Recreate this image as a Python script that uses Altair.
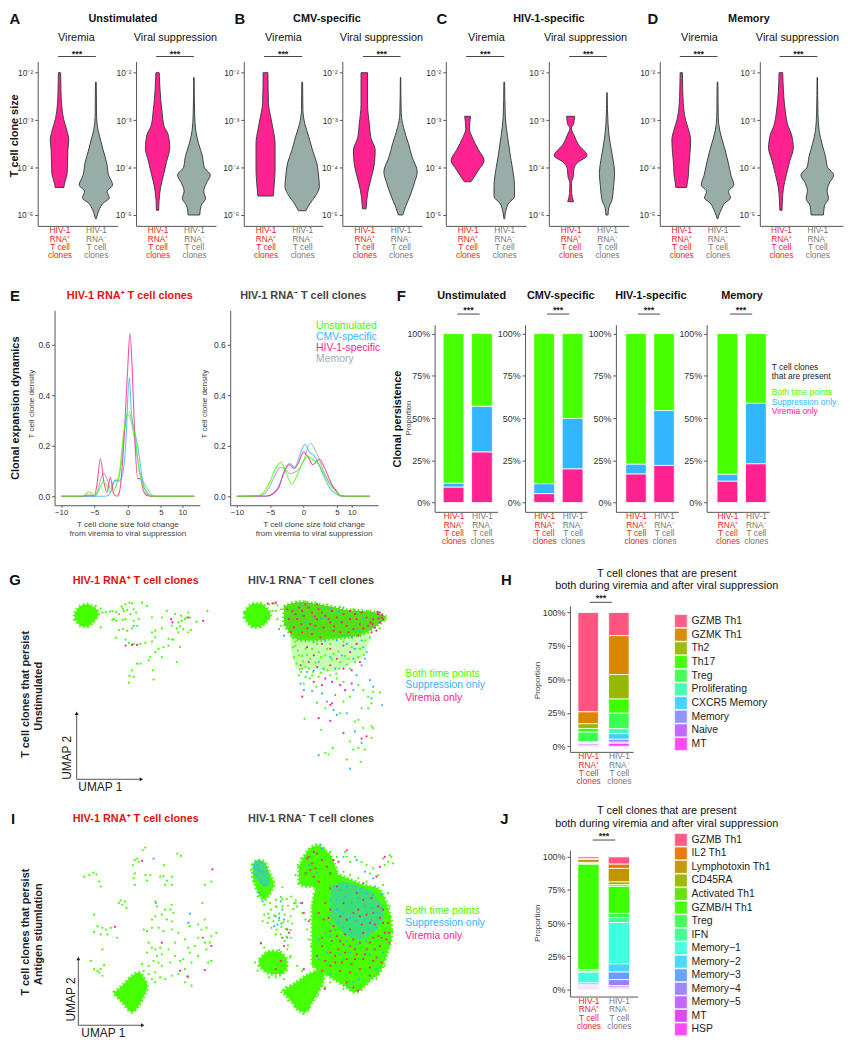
import altair as alt
import pandas as pd

W, H = 846, 1042
FONT = "Liberation Sans"
RED = "#f01c1c"
GREENC, BLUEC, PINKC, GREYC = "#46ff00", "#33b5ff", "#ff2290", "#98aca8"
INK = "#444444"
ONE = alt.Data(values=[{"a": 1}])

# ---- violin outlines: (log10 clone size, half width in category units) ----
A1_POS = [(-2,.03),(-2.37,.04),(-2.65,.055),(-2.97,.11),(-3.21,.2),(-3.42,.255),(-3.63,.23),(-3.91,.22),(-4.12,.21),(-4.26,.165),(-4.37,.13),(-4.42,.12)]
A1_NEG = [(-2.2,.01),(-2.94,.02),(-3.21,.06),(-3.42,.13),(-3.63,.2),(-3.91,.3),(-4.16,.35),(-4.37,.46),(-4.5,.31),(-4.64,.37),(-4.75,.2),(-4.89,.09),(-5,.04),(-5.08,.01)]
A2_POS = [(-2,.045),(-2.39,.07),(-2.81,.12),(-3.13,.18),(-3.3,.29),(-3.59,.335),(-3.87,.25),(-4.15,.165),(-4.43,.08),(-4.71,.04),(-4.9,.03)]
A2_NEG = [(-2.1,.005),(-2.87,.02),(-3.22,.05),(-3.5,.13),(-3.78,.24),(-3.99,.28),(-4.16,.45),(-4.33,.34),(-4.5,.27),(-4.65,.32),(-4.8,.2),(-5,.16)]
B1_POS = [(-2,.065),(-2.65,.08),(-2.93,.14),(-3.21,.21),(-3.49,.26),(-4.05,.26),(-4.33,.24),(-4.6,.21)]
B1_NEG = [(-2.2,.01),(-2.8,.02),(-3.07,.07),(-3.35,.18),(-3.63,.28),(-3.91,.4),(-4.2,.45),(-4.4,.47),(-4.6,.36),(-4.75,.22),(-4.91,.1)]
B2_POS = [(-2,.09),(-2.67,.09),(-3.09,.14),(-3.37,.18),(-3.63,.3),(-3.91,.28),(-4.19,.2),(-4.47,.11),(-4.68,.07),(-4.87,.05)]
B2_NEG = [(-2.1,.005),(-2.87,.02),(-3.15,.08),(-3.5,.22),(-3.78,.32),(-4.09,.46),(-4.33,.38),(-4.6,.26),(-4.82,.14),(-5,.06)]
C1_POS = [(-2.92,.08),(-3.18,.05),(-3.35,.12),(-3.63,.3),(-3.85,.45),(-4.05,.3),(-4.3,.09)]
C1_NEG = [(-2.2,.01),(-2.94,.03),(-3.35,.09),(-3.78,.17),(-4.2,.26),(-4.4,.28),(-4.61,.28),(-4.75,.12),(-4.92,.04),(-5.08,.01)]
C2_POS = [(-2.92,.11),(-3.09,.08),(-3.17,.02),(-3.33,.1),(-3.5,.2),(-3.75,.45),(-3.89,.2),(-4.03,.09),(-4.2,.07),(-4.33,.02),(-4.55,.03),(-4.72,.08)]
C2_NEG = [(-2.42,.005),(-3.09,.03),(-3.5,.09),(-3.85,.17),(-4.12,.21),(-4.4,.18),(-4.68,.14),(-4.85,.05),(-5,.03)]
D1_POS = [(-2,.03),(-2.35,.04),(-2.65,.055),(-3,.12),(-3.2,.2),(-3.42,.26),(-3.7,.24),(-3.95,.21),(-4.15,.2),(-4.3,.17),(-4.42,.15)]
D1_NEG = [(-2.2,.01),(-2.94,.02),(-3.21,.06),(-3.42,.13),(-3.63,.21),(-3.91,.3),(-4.16,.37),(-4.37,.45),(-4.5,.3),(-4.64,.36),(-4.75,.2),(-4.89,.1),(-5,.04),(-5.08,.01)]
D2_POS = [(-2,.05),(-2.39,.07),(-2.81,.12),(-3.13,.2),(-3.3,.29),(-3.59,.34),(-3.87,.24),(-4.15,.15),(-4.43,.07),(-4.71,.04),(-4.9,.03)]
D2_NEG = [(-2.1,.005),(-2.87,.02),(-3.22,.05),(-3.5,.13),(-3.78,.23),(-3.99,.28),(-4.16,.45),(-4.33,.33),(-4.5,.27),(-4.65,.31),(-4.8,.2),(-5,.17)]

# ---- density curves: (fold change, density) ----
E1_UNSTIM = [(-10,0),(-7,0),(-6.4,.006),(-5.8,.018),(-5.2,.007),(-4.8,.003),(-4.3,.025),(-3.7,.056),(-3.2,.045),(-2.7,.02),(-2.2,.02),(-1.7,.045),(-1.2,.1),(-.6,.25),(.1,.335),(.6,.31),(1.2,.22),(1.8,.09),(2.3,.045),(2.8,.02),(3.4,.003),(4,0),(12,0)]
E1_CMV = [(-10,0),(-4,0),(-3,.002),(-2.5,.02),(-2,.06),(-1.7,.065),(-1.3,.06),(-.8,.08),(-.3,.2),(.25,.47),(.6,.32),(1.2,.24),(1.7,.17),(2.2,.07),(2.7,.02),(3.3,.002),(4,0),(12,0)]
E1_HIV = [(-10,0),(-6.8,0),(-6,.005),(-5,.002),(-4.6,.05),(-4.1,.15),(-3.6,.06),(-3.1,.015),(-2.6,.075),(-2.1,.01),(-1.6,0),(-1.2,.02),(-.6,.2),(0,.5),(.35,.645),(.7,.5),(1.1,.22),(1.5,.07),(1.9,.07),(2.4,.02),(3,.002),(4,0),(12,0)]
E1_MEM = [(-10,0),(-5,0),(-4.4,.03),(-3.9,.08),(-3.5,.09),(-3,.06),(-2.6,.03),(-2,.06),(-1.5,.06),(-1,.12),(-.4,.27),(0,.325),(.6,.29),(1.2,.2),(1.8,.1),(2.5,.05),(3,.03),(3.6,.005),(4.2,0),(12,0)]
E2_UNSTIM = [(-10,0),(-7,.002),(-6,.015),(-5,.06),(-4.2,.11),(-3.4,.135),(-2.7,.1),(-1.8,.048),(-1,.08),(0,.14),(.6,.157),(1.4,.145),(2.3,.125),(3,.09),(4,.045),(5,.015),(6,.003),(8,0),(12,0)]
E2_CMV = [(-10,0),(-5.5,0),(-4.5,.012),(-3.7,.04),(-3,.09),(-2.1,.13),(-1.3,.115),(-.6,.16),(.2,.205),(.9,.175),(1.6,.16),(2.4,.12),(3.2,.07),(4,.03),(5,.008),(6,.001),(8,0),(12,0)]
E2_HIV = [(-10,0),(-5.5,.001),(-4.5,.012),(-3.7,.035),(-3,.09),(-2.2,.125),(-1.4,.11),(-.8,.13),(0,.175),(.7,.155),(1.4,.125),(2.4,.147),(3.2,.11),(4.2,.05),(5,.018),(6,.003),(8,0),(12,0)]
E2_MEM = [(-10,0),(-6.5,.003),(-5.5,.02),(-4.5,.07),(-3.5,.115),(-2.7,.105),(-2,.09),(-1,.1),(0,.14),(1,.21),(2,.17),(3,.1),(4,.05),(5,.018),(6,.003),(8,0),(12,0)]

# ---- persistence proportions: viremia only, suppression only, both ----
PERSIST_NAMES = ["Viremia only", "Suppression only", "Both time points"]
PERSIST_COLORS = [PINKC, BLUEC, GREENC]
F1_POS, F1_NEG = [.092,.023,.885], [.30,.27,.43]
F2_POS, F2_NEG = [.053,.059,.888], [.20,.298,.502]
F3_POS, F3_NEG = [.17,.058,.772], [.22,.325,.455]
F4_POS, F4_NEG = [.127,.041,.832], [.23,.358,.412]

# ---- phenotype proportions (top of bar first) ----
H_NAMES = ["GZMB Th1","GZMK Th1","Th2","Th17","Treg","Proliferating","CXCR5 Memory","Memory","Naive","MT"]
H_COLORS = ["#ff5580","#d98600","#97b800","#3cff00","#3cff50","#3cffb0","#40d0ff","#8a90ff","#c060ff","#ff40ff"]
H_POS = [74.3,8.9,3.5,2.7,7.4,.5,.5,.5,1.0,.7]
H_NEG = [17.3,29.1,18.3,10.6,11.6,3.7,4.2,2.2,.8,2.2]
J_NAMES = ["GZMB Th1","IL2 Th1","Lymphotoxin Th1","CD45RA","Activated Th1","GZMB/H Th1","Treg","IFN","Memory−1","Memory−2","Memory−3","Memory−4","Memory−5","MT","HSP"]
J_COLORS = ["#ff5580","#e87400","#c49400","#99b800","#60e000","#3cff00","#3cff50","#3cff90","#40ffdf","#45d5ff","#60a0ff","#9a80ff","#c060ff","#e040f0","#ff40ff"]
J_POS = [1.5,.5,2.2,.7,.7,79.6,1.2,.7,8,1.2,1,.7,.7,1,.2]
J_NEG = [5.5,3.2,10.2,2.2,1.2,20.4,3.2,3.7,31.2,6.2,5.7,4.5,1.2,.7,.5]

# ---- UMAP points ----
G_GREEN = [(295,125),(305,118),(300,135),(290,110),(310,130),(320,128),(305,175),(332,127),(340,125),(352,128),(345,150),(360,135),(372,118),(380,105),(392,100),(400,102),(385,122),(375,125),(368,112),(430,100),(445,110),(405,120),(412,130),(395,135),(380,150),(372,152),(352,155),(340,152),(405,155),(420,150),(415,170),(400,178),(385,185),(372,180),(360,183),(352,207),(380,212),(390,222),(405,225),(425,225),(440,222),(460,190),(470,185),(490,178),(470,205),(460,218),(480,240),(495,235),(510,230),(520,212),(510,210),(525,212),(540,190),(545,172),(555,180),(570,190),(578,183),(595,158),(570,130),(560,150),(548,140),(530,135),(505,125),(490,145),(460,145),(520,170),(535,178),(540,160),(550,155),(565,145),(575,145),(628,125),(545,235),(470,250),(455,265),(450,275),(535,280),(425,285),(415,285),(400,305),(392,322),(405,325),(463,305),(465,333),(390,343),(490,265),
 (800,110),(815,105),(830,103),(840,108),(825,125),(810,130),(835,125),(850,120),(800,165),(790,175),(850,170),(840,150),(895,230),(905,260),(915,300),(925,240),(945,240),(965,250),(985,260),(1010,255),(1030,280),(1055,270),(1075,280),(905,320),(925,325),(945,320),(965,325),(1000,320),(1020,330),(1040,340),(1085,350),(1100,365),(1115,385),(1130,370),(1150,372),(1125,405),(960,403),(985,420),(1030,435),(922,452),(972,485),(1075,460),(1085,455),(1095,420),(1115,420),(1060,520),(1125,510),(1105,545),(1070,545),(1085,540),(1007,540),(985,555),(1050,575),(1092,582),(995,560),(1130,480),(1125,475),(1100,480),(1040,400),(1060,385),
 (868,135),(862,158),(872,172),(884,205),(893,218),(898,98),(925,97),(955,100),(990,106),(1030,113),(1070,120),(1115,125),(1168,150),(1150,178),(1120,205),(890,265),(898,285),(912,310),(935,300),(1060,300),(1085,265),(1105,215),(1018,315),(960,225),(1000,225),(1040,218),
 (888,235),(902,245),(915,262),(930,258),(918,278),(940,270),(955,282),(972,265),(990,240),(1005,272),(1025,248),(1045,262),(1065,235),(1090,240),(1102,258),(908,302),(925,295),(948,310),(972,312),(992,305),(1028,300),(1050,288),(920,345),(938,330),(958,355)]
G_PINK = [(518,150),(522,160),(400,228),(415,228),(380,230),(570,145),(615,155),
 (885,125),(905,115),(925,105),(945,130),(965,120),(985,140),(1005,125),(900,150),(920,140),(940,165),(960,150),(980,175),(1000,160),(1020,145),(1040,135),(1060,150),(1075,135),(1090,165),(1110,145),(1130,150),(1145,135),(1155,145),(1160,150),(1150,160),(1135,175),(1125,190),(1115,170),(1070,180),(1050,170),(1030,190),(1010,185),(890,175),(915,190),(945,195),(970,205),(1085,200),(810,103),(825,102),(835,100),(870,120),(1143,128),(1150,130),(1128,165),(1140,185),(960,105),(915,125),(1095,130),(1060,125),(875,150),(880,190),(930,235),(950,260),(975,225),(1000,240),(1020,270),(1040,230),(1060,250),(1080,225),(1090,280),(960,295),(935,280),(910,290),(1000,290),(1040,300),(1065,305),(985,330),(1005,340),(1030,350),(1045,365),(975,350),(1000,410),(1005,405),(965,450),(1000,458),(1040,495),(1095,512),(1110,505),(915,385),(950,340),(1065,345),
 (895,135),(912,165),(935,115),(953,142),(975,130),(995,150),(1012,172),(1035,160),(1055,190),(1080,150),(1100,178),(1122,160),(1146,148),(1158,138),(930,178),(955,170)]
G_BLUE = [(405,170),
 (845,180),(860,200),(805,145),(1000,120),(1040,115),(1100,150),(950,180),(1065,205),(1095,215),(1100,235),(1110,250),(1075,240),(1050,225),(1020,215),(985,215),(950,220),(1035,260),(1015,300),(980,300),(950,305),(930,310),(910,345),(920,365),(945,368),(975,375),(990,400),(1015,380),(1095,290),(1105,270),(1120,335),(1130,355),(1080,320),(1070,365),(1125,390),(1020,440),(1050,435),(1075,490),(1095,525),(965,562),(1060,603),(1010,425),(1157,410),
 (925,160),(972,148),(1025,128),(1085,185),(1045,200),(910,105),(1070,270),(1000,265),(965,280)]
I_GREEN = [(440,122),(432,130),(415,155),(408,160),(402,175),(420,165),(408,200),(405,215),(408,235),(440,205),(455,205),(445,222),(485,210),(495,208),(505,222),(520,210),(500,235),(520,235),(497,175),(537,140),(548,147),(255,210),(270,205),(283,198),(292,203),(300,225),(305,240),(360,290),(365,282),(370,295),(378,285),(383,305),(470,285),(475,300),(520,295),(515,310),(525,320),(500,310),(490,325),(505,340),(520,345),(470,330),(460,340),(435,370),(445,375),(460,365),(480,365),(495,375),(520,370),(540,380),(575,360),(600,355),(610,370),(620,340),(625,365),(620,235),(640,225),(613,290),(285,325),(295,360),(310,365),(320,370),(325,385),(285,378),(305,385),(335,365),(355,395),(310,430),(275,465),(285,490),(295,495),(305,490),(315,478),(300,500),(310,510),(450,410),(460,425),(445,440),(470,430),(485,425),(475,450),(490,445),(480,470),(465,465),(450,480),(435,495),(430,475),(450,505),(470,500),(490,480),(500,520),(520,510),(470,530),(460,520),(485,515),(555,460),(545,465),(580,470),(600,450),(625,430),(640,465),(635,410),(655,380),(640,390),(620,410),(600,395),(575,440),(590,420),(570,425),(560,400),(530,410),(510,430),(530,450),(515,470),(560,490),(570,515),(580,540),(560,530),(540,505),(630,470),(420,510),(410,520),(425,525),(395,530),(440,530),(405,515),
 (1180,145),(1185,150),(1175,165),(1160,155),(1165,175),(1190,170),(1130,185),(1110,175),(1095,165),(1145,205),(1160,235),(1175,260),(1180,300),(1183,330),(1060,165),(1075,150),(1045,135),(1020,150),(1000,135),(800,325),(795,345),(810,350),(790,410),(800,425),(870,430),(900,300),(915,320),(925,340),(930,370),(935,400),(880,450),(900,480),(915,495),(860,520),(835,515),(895,290),(855,242),(1050,150),(1120,200),(1165,480),(1140,520),(1115,530),(1090,550),(1040,550),(985,545),(1000,530),
 (1040,195),(1060,205),(1085,215),(1110,225),(1135,245),(1162,285),(1178,345),(1187,375),(1178,420),(1160,462),(1140,500),(1095,552),(1062,553),(1012,520),(975,512),(952,470),(942,420),(938,340),(950,280),(995,200),(1010,180),(895,205),(902,175),(912,155),(935,130),(958,112),(982,125),(866,545),(852,560),(872,585),(895,605),(918,625),(935,610),(962,570),(978,540),(772,470),(780,495),(815,515),(848,510),(870,480),(878,455),(845,432),(805,440),(760,190),(768,225),(780,270),(825,240),(835,300),(855,278),(890,290),
 (818,290),(835,280),(850,272),(868,278),(882,270),(895,282),(820,310),(838,302),(855,300),(872,298),(888,308),(815,335),(830,328),(845,322),(862,325),(880,330),(828,345),(845,342),(858,348),(872,345),(885,352),(822,365),(838,370),(852,362),(866,368),(880,372),(835,385),(850,385),(868,392),(882,395),(862,405),(872,418),(800,295),(812,322)]
I_PINK = [(430,162),(348,362),(643,188),(614,395),(640,420),(490,410),(545,495),(620,493),(568,512),
 (930,155),(945,170),(960,140),(975,160),(925,200),(950,210),(965,225),(990,180),(1010,160),(1025,165),(1050,130),(1000,245),(1020,240),(1080,260),(1100,230),(1140,210),(1150,180),(1165,150),(1100,280),(1040,290),(1000,310),(980,340),(1010,360),(1050,340),(1090,330),(1130,320),(1160,350),(1178,380),(1170,400),(1150,420),(1130,395),(1100,380),(1070,400),(1040,415),(1005,405),(975,420),(960,450),(985,465),(1015,450),(1050,460),(1080,445),(1110,430),(1140,455),(1155,470),(1120,485),(1090,490),(1060,500),(1030,495),(1000,480),(975,495),(1050,530),(1070,545),(1085,555),(1120,510),(1145,390),(1175,350),(1160,310),(1125,275),(985,290),(965,320),(1020,390),(1060,370),(1095,355),(1135,355),(1150,335),(1075,430),(1025,430),(1100,460),(870,370),(855,395),(860,420),(875,380),(850,465),(835,490),(790,412),(915,290),(920,320),(935,345),(920,490),(983,550),(1165,380),(1180,410),(1120,350),(1085,310),(1045,385),(1000,440),(1135,430),(1065,475),(1035,470),(940,190),(955,185),
 (1000,375),(1030,405),(1060,420),(1090,410),(1120,410),(1155,395),(975,395),(1015,470),(1045,440),(1075,460),(1105,445),(1130,465),(995,335),(1030,330),(1070,320),(1110,325),(1145,300),(935,150),(950,135),(1000,200)]
I_BLUE = [(465,155),(570,350),(575,322),(472,290),
 (1010,240),(1030,250),(1050,240),(1075,240),(1095,245),(1110,260),(1130,265),(1045,270),(1065,290),(1085,275),(1105,300),(1125,305),(1145,320),(1020,310),(1040,320),(1060,335),(1080,345),(1105,340),(1125,340),(1000,350),(1025,350),(1015,370),(1040,365),(1065,380),(1090,395),(1115,370),(1140,365),(1000,390),(985,380),(965,400),(1050,405),(1080,415),(1110,405),(990,440),(1030,445),(1060,440),(1120,445),(1070,530),(1055,545),(1085,520),(1140,490),(1160,440),(965,460),(1000,505),(1040,150),(1080,160),(1105,195),(1135,240),(975,125),(970,113),(935,175),(960,200),(770,180),(780,175),(785,190),(795,195),(775,205),(790,225),(800,235),(810,225),(785,260),(795,285),(850,285),(855,310),(840,355),(830,360),(870,395),(910,290),(1155,265),(1130,215),(1000,280),(1020,280),
 (845,335),(860,340),(835,330),(852,352)]

# dense clouds, read as outlines: (UMAP 1, upper edge, lower edge)
G_CLOUDS = [
 (GREENC, 1, [(226,132,150),(235,118,162),(250,108,172),(265,105,172),(280,112,160),(290,118,150),(296,130,140)]),
 (GREENC, 1, [(740,130,145),(750,115,160),(770,103,175),(790,103,170),(805,115,160),(818,130,145)]),
 ("#52e014", 1, [(860,112,165),(880,103,195),(910,98,215),(950,103,215),(1000,112,210),(1050,122,205),(1100,125,195),(1140,130,170),(1165,142,152)]),
 (GREENC, .3, [(880,195,240),(900,200,300),(950,205,300),(1000,205,310),(1050,200,290),(1100,190,260),(1120,180,215)]),
]
I_CLOUDS = [
 (GREENC, 1, [(345,560,565),(370,540,590),(400,510,620),(420,500,600),(445,535,550)]),
 (GREENC, 1, [(905,180,230),(920,150,238),(945,120,240),(965,115,250),(985,130,260),(1000,145,260),(1020,190,280)]),
 (GREENC, 1, [(945,300,480),(960,240,490),(985,240,505),(1010,200,520),(1050,215,545),(1075,225,560),(1100,235,545),(1125,240,520),(1150,250,500),(1170,290,450),(1185,340,400)]),
 (GREENC, 1, [(858,555,560),(880,540,585),(905,525,615),(925,510,620),(945,500,590),(965,490,555),(980,480,525)]),
 (GREENC, 1, [(785,460,480),(800,445,495),(825,435,505),(850,440,505),(868,460,490)]),
 (GREENC, 1, [(765,175,210),(780,160,255),(800,165,280),(815,195,265),(828,225,240)]),
 (BLUEC, .5, [(768,165,205),(785,158,225),(805,180,240),(815,210,235)]),
 (BLUEC, .45, [(1000,250,330),(1040,225,380),(1090,240,400),(1130,260,380),(1160,300,340)]),
]


def T(s, x, y, size=11, weight="normal", color="#111111", align="center", angle=0):
    return alt.Chart(ONE).mark_text(text=s, fontSize=size, fontWeight=weight, color=color, align=align,
                                    baseline="middle", angle=angle, font=FONT).encode(
        x=alt.value(x - 8), y=alt.value(y - 8))


def cat_scale(l, r, c1, c2):
    u = c2 - c1
    return alt.Scale(domain=[1 + (l - c1) / u, 1 + (r - c1) / u], range=[l - 8, r - 8], nice=False, zero=False)


def cat_axis(bottom):
    return alt.Axis(orient="bottom", offset=bottom - 8 - H, values=[1, 2], title=None, grid=False, ticks=False,
                    labelExpr="datum.value == 1 ? ['HIV-1','RNA⁺','T cell','clones'] : ['HIV-1','RNA⁻','T cell','clones']",
                    labelColor={"condition": {"test": "datum.value == 1", "value": RED}, "value": "#777777"},
                    labelFontSize=8.4, labelLineHeight=8.4, labelPadding=4, labelOverlap=False, labelFlush=False,
                    labelFont=FONT, labelBaseline="middle", domainColor="#555555", domainWidth=1)


def left_axis(l, values, **kw):
    return alt.Axis(orient="left", offset=-(l - 8), values=values, title=None, grid=False, tickSize=3,
                    tickColor="#555555", domainColor="#555555", domainWidth=1, labelColor="#333333", labelFont=FONT,
                    labelPadding=2, labelOverlap=False, **kw)


def sig(sx, xax, sy_px, star_px, a=1.0, b=2.0):
    d = pd.DataFrame({"a": [a], "b": [b], "m": [(a + b) / 2]})
    return [
        alt.Chart(d).mark_rule(color="#333333", strokeWidth=.9).encode(
            x=alt.X("a:Q", scale=sx, axis=xax), x2="b:Q", y=alt.value(sy_px - 8)),
        alt.Chart(d).mark_text(text="***", fontSize=9, fontWeight="bold", color="#222222", font=FONT, baseline="middle").encode(
            x=alt.X("m:Q", scale=sx, axis=xax), y=alt.value(star_px - 8)),
    ]


def violin(l, r, c1, c2, pos, neg):
    sx = cat_scale(l, r, c1, c2)
    top, bot, y2, y5 = 57, 223, 68.3, 212
    dec = (y5 - y2) / 3
    sy = alt.Scale(type="log", domain=[10 ** (-5 - (bot - y5) / dec), 10 ** (-2 + (y2 - top) / dec)],
                   range=[bot - 8, top - 8], nice=False, zero=False)
    yaxis = left_axis(l, [1e-2, 1e-3, 1e-4, 1e-5], labelFontSize=8.5,
                      labelExpr="datum.value > 5e-3 ? '10⁻²' : datum.value > 5e-4 ? '10⁻³' : datum.value > 5e-5 ? '10⁻⁴' : '10⁻⁵'")
    xaxis = cat_axis(bot)
    parts = []
    for shape, center, col in [(pos, 1, PINKC), (neg, 2, GREYC)]:
        d = pd.DataFrame({"v": [10 ** e for e, _ in shape], "lo": [center - w for _, w in shape],
                          "hi": [center + w for _, w in shape]})
        parts.append(alt.Chart(d).mark_area(orient="horizontal", interpolate="monotone", fill=col, stroke="#333333",
                                            strokeWidth=.9).encode(
            x=alt.X("lo:Q", scale=sx, axis=xaxis), x2="hi:Q", y=alt.Y("v:Q", scale=sy, axis=yaxis)))
    parts += sig(sx, xaxis, 52, 49, .96, 2)
    return alt.layer(*parts)


def density(l, xs, curves):
    sx = alt.Scale(domain=[-11, 5, 10, 12, 13], range=[p - 8 for p in xs], nice=False, zero=False)
    zero, six = 496, 343
    per = (zero - six) / .6
    top, bot = 308.3, 505
    sy = alt.Scale(domain=[(zero - bot) / per, (zero - top) / per], range=[bot - 8, top - 8], nice=False, zero=False)
    xax = alt.Axis(orient="bottom", offset=bot - 8 - H, values=[-10, -5, 0, 5, 10], title=None, grid=False, tickSize=2,
                   tickColor="#555555", domainColor="#555555", labelColor="#333333", labelFontSize=8, labelFont=FONT,
                   labelPadding=1, labelOverlap=False, labelFlush=False)
    yax = left_axis(l, [0, .2, .4, .6], labelFontSize=8.5, format=".1f")
    parts = []
    for c, col in curves:
        d = pd.DataFrame(c, columns=["fc", "dens"])
        parts.append(alt.Chart(d).mark_line(interpolate="monotone", color=col, strokeWidth=1.1, opacity=.8).encode(
            x=alt.X("fc:Q", scale=sx, axis=xax), y=alt.Y("dens:Q", scale=sy, axis=yax)))
    return alt.layer(*parts)


def stacked(l, r, c1, c2, half, top, bot, y100, y0, pos, neg, names, colors, sa, sb, sy_px, star_px, bottom_up=True):
    sx = cat_scale(l, r, c1, c2)
    per = y0 - y100
    sy = alt.Scale(domain=[(y0 - bot) / per, (y0 - top) / per], range=[bot - 8, top - 8], nice=False, zero=False)
    rows = []
    for center, vals in [(1, pos), (2, neg)]:
        if bottom_up:
            cum = 0
            for n, v in zip(names, vals):
                rows.append(dict(n=n, lo=center - half, hi=center + half, y0=cum, y1=cum + v))
                cum += v
        else:
            cum = 1
            for n, v in zip(names, vals):
                rows.append(dict(n=n, lo=center - half, hi=center + half, y0=cum - v / 100, y1=cum))
                cum -= v / 100
    d = pd.DataFrame(rows)
    xaxis = cat_axis(bot)
    bars = alt.Chart(d).mark_rect(stroke="white", strokeWidth=.8).encode(
        x=alt.X("lo:Q", scale=sx, axis=xaxis), x2="hi:Q",
        y=alt.Y("y0:Q", scale=sy, axis=left_axis(l, [0, .25, .5, .75, 1], labelFontSize=9, format=".0%")), y2="y1:Q",
        color=alt.Color("n:N", scale=alt.Scale(domain=names, range=colors), legend=None))
    return alt.layer(bars, *sig(sx, xaxis, sy_px, star_px, sa, sb))


def legend_panel(names, colors, swatch_l, swatch_r, text_l, t, b):
    sy = alt.Scale(domain=names, range=[t - 8, b - 8], paddingInner=.06, paddingOuter=.03)
    d = pd.DataFrame({"n": names})
    rect = alt.Chart(d).mark_rect(stroke="#ffffff", strokeWidth=.6, opacity=.95).encode(
        x=alt.value(swatch_l - 8), x2=alt.value(swatch_r - 8), y=alt.Y("n:N", scale=sy, axis=None),
        color=alt.Color("n:N", scale=alt.Scale(domain=names, range=colors), legend=None))
    txt = alt.Chart(d).mark_text(align="left", baseline="middle", fontSize=10.5, font=FONT, color="#222222").encode(
        x=alt.value(text_l - 8), y=alt.Y("n:N", scale=sy, axis=None), text="n:N")
    return alt.layer(rect, txt)


def umap(y_top, clouds, green, pink, blue, ax, ay_top, ay_bot, ax_right):
    sx = alt.Scale(domain=[0, 1620], range=[-8, 532], nice=False, zero=False)
    sy = alt.Scale(domain=[0, 720], range=[y_top - 8, y_top + 232], nice=False, zero=False)
    X = lambda f: alt.X(f, scale=sx, axis=None)
    Y = lambda f: alt.Y(f, scale=sy, axis=None)
    parts = []
    for col, op, outline in clouds:
        d = pd.DataFrame(outline, columns=["u", "t", "b"])
        if op == 1:
            mark = alt.Chart(d).mark_area(interpolate="monotone", color=col, opacity=1, stroke=col, strokeWidth=3.5,
                                          strokeDash=[1.5, 2.5])
        else:
            mark = alt.Chart(d).mark_area(interpolate="monotone", color=col, opacity=op)
        parts.append(mark.encode(x=X("u:Q"), y=Y("t:Q"), y2="b:Q"))
    for pts, col, size in [(green, GREENC, 5), (blue, BLUEC, 5), (pink, PINKC, 5)]:
        d = pd.DataFrame(pts, columns=["u", "v"])
        parts.append(alt.Chart(d).mark_circle(color=col, size=size, opacity=1).encode(x=X("u:Q"), y=Y("v:Q")))
    va = pd.DataFrame({"u": [ax], "a": [ay_top], "b": [ay_bot]})
    ha = pd.DataFrame({"u": [ax], "r": [ax_right], "v": [ay_bot]})
    parts.append(alt.Chart(va).mark_rule(color="#555555", strokeWidth=1).encode(x=X("u:Q"), y=Y("a:Q"), y2="b:Q"))
    parts.append(alt.Chart(ha).mark_rule(color="#555555", strokeWidth=1).encode(x=X("u:Q"), x2="r:Q", y=Y("v:Q")))
    parts.append(alt.Chart(va).mark_point(shape="triangle-up", filled=True, color="#222222", size=16, opacity=1).encode(x=X("u:Q"), y=Y("a:Q")))
    parts.append(alt.Chart(ha).mark_point(shape="triangle-right", filled=True, color="#222222", size=16, opacity=1).encode(x=X("r:Q"), y=Y("v:Q")))
    return alt.layer(*parts)


layers = [
    violin(38, 118.7, 60, 96.7, A1_POS, A1_NEG), violin(137.3, 218, 159, 195.7, A2_POS, A2_NEG),
    violin(246, 326, 268, 305, B1_POS, B1_NEG), violin(345.5, 426, 367.7, 404.3, B2_POS, B2_NEG),
    violin(450, 531, 472, 509, C1_POS, C1_NEG), violin(554, 634.7, 576, 612.7, C2_POS, C2_NEG),
    violin(666, 747, 687.7, 724.3, D1_POS, D1_NEG), violin(767, 851, 788.3, 825, D2_POS, D2_NEG),
    density(55, [55, 162.3, 184, 196, 201.7], [(E1_MEM, GREYC), (E1_CMV, BLUEC), (E1_HIV, PINKC), (E1_UNSTIM, GREENC)]),
    density(232.3, [232.3, 340, 355, 373.3, 381.7], [(E2_MEM, GREYC), (E2_CMV, BLUEC), (E2_HIV, PINKC), (E2_UNSTIM, GREENC)]),
    stacked(438.7, 502.3, 457.8, 486.5, .365, 322.7, 511.7, 331.7, 502.3, F1_POS, F1_NEG, PERSIST_NAMES, PERSIST_COLORS, 1.13, 1.92, 312, 308),
    stacked(530, 592.7, 549.3, 578, .365, 322.7, 511.7, 331.7, 502.3, F2_POS, F2_NEG, PERSIST_NAMES, PERSIST_COLORS, 1.1, 1.88, 312, 308),
    stacked(621.7, 684.7, 642, 670.3, .365, 322.7, 511.7, 331.7, 502.3, F3_POS, F3_NEG, PERSIST_NAMES, PERSIST_COLORS, 1.07, 1.86, 312, 308),
    stacked(713.3, 776.3, 734.3, 763, .365, 322.7, 511.7, 331.7, 502.3, F4_POS, F4_NEG, PERSIST_NAMES, PERSIST_COLORS, 1.09, 1.87, 312, 308),
    stacked(575.3, 639, 593.7, 624.7, .333, 606.7, 754, 613.3, 748.3, H_POS, H_NEG, H_NAMES, H_COLORS, 1.05, 1.78, 603, 599, bottom_up=False),
    stacked(575.3, 643.7, 594, 624.7, .35, 853.3, 1001, 860, 993.7, J_POS, J_NEG, J_NAMES, J_COLORS, 1.14, 1.88, 843, 839, bottom_up=False),
    legend_panel(H_NAMES, H_COLORS, 681, 693.7, 698, 615, 753),
    legend_panel(J_NAMES, J_COLORS, 681, 693.7, 698, 836, 1041),
    umap(570, G_CLOUDS, G_GREEN, G_PINK, G_BLUE, 232, 435, 635, 428),
    umap(810, I_CLOUDS, I_GREEN, I_PINK, I_BLUE, 237, 458, 660, 432),
]

for s, x, y in [("A",15,14),("B",242,14),("C",446,14),("D",659,14),("E",15,294),("F",405,294),("G",15,581),("H",511,581),("I",13,822),("J",509,822)]:
    layers.append(T(s, x, y, size=15, weight="bold"))

for s, x in [("Unstimulated",124),("CMV-specific",330),("HIV-1-specific",554),("Memory",756)]:
    layers.append(T(s, x, 14, weight="bold"))
for x in [77, 286, 491, 706]:
    layers.append(T("Viremia", x, 33))
for x in [177, 385, 591, 805]:
    layers.append(T("Viral suppression", x, 33))
layers.append(T("T cell clone size", 15, 132, weight="bold", angle=270))

layers += [T("HIV-1 RNA⁺ T cell clones", 131, 294, weight="bold", color="#e81010"),
           T("HIV-1 RNA⁻ T cell clones", 306, 294, weight="bold", color="#444444"),
           T("Clonal expansion dynamics", 16, 407, weight="bold", angle=270),
           T("T cell clone density", 32, 403, size=8.2, angle=270, color=INK),
           T("T cell clone density", 207, 403, size=8.2, angle=270, color=INK)]
for cx in [129, 317]:
    layers += [T("T cell clone size fold change", cx, 525, size=8.2, color=INK),
               T("from viremia to viral suppression", cx, 534, size=8.2, color=INK)]
for s, y, c in [("Unstimulated",324,GREENC),("CMV-specific",335,BLUEC),("HIV-1-specific",346,PINKC),("Memory",357,GREYC)]:
    layers.append(T(s, 319, y, align="left", color=c, size=10.5))

for s, x in [("Unstimulated",476),("CMV-specific",566),("HIV-1-specific",657),("Memory",749)]:
    layers.append(T(s, x, 294, weight="bold"))
layers += [T("Clonal persistence", 402, 418, weight="bold", angle=270),
           T("Proportion", 413, 417, size=7.5, angle=270, color=INK),
           T("T cell clones", 779, 365, size=8.5, align="left", color="#222222"),
           T("that are present", 779, 375, size=8.5, align="left", color="#222222"),
           T("Both time points", 779, 391, size=8.5, align="left", color=GREENC),
           T("Suppression only", 779, 400.5, size=8.5, align="left", color=BLUEC),
           T("Viremia only", 779, 410, size=8.5, align="left", color=PINKC)]

for top, lab2, um2x, um2y, um1x, um1y in [(570, "Unstimulated", 68, 760, 79, 790),
                                          (810, "Antigen stiumlation", 72, 1004, 82, 1038)]:
    layers += [T("HIV-1 RNA⁺ T cell clones", 137, top + 12, weight="bold", color="#e81010"),
               T("HIV-1 RNA⁻ T cell clones", 314, top + 12, weight="bold", color="#444444"),
               T("T cell clones that persist", 26, top + 126, weight="bold", angle=270, color="#222222"),
               T(lab2, 39, top + 128, weight="bold", angle=270, color="#222222"),
               T("UMAP 2", um2x, um2y, size=12, angle=270, color="#222222"),
               T("UMAP 1", um1x, um1y, size=12, align="left", color="#222222"),
               T("Both time points", 409, top + 105, align="left", size=10.5, color=GREENC),
               T("Suppression only", 409, top + 117, align="left", size=10.5, color=BLUEC),
               T("Viremia only", 409, top + 130, align="left", size=10.5, color=PINKC)]

for top, py in [(570, 682), (810, 927)]:
    layers += [T("T cell clones that are present", 673, top + 4),
               T("both during viremia and after viral suppression", 673, top + 17),
               T("Proportion", 543, py, size=8.2, angle=270, color=INK)]

chart = alt.layer(*layers).resolve_scale(x="independent", y="independent", color="independent").properties(
    width=W, height=H, padding=0, autosize="none"
).configure_view(stroke=None)

chart.save("out.html", embed_options={"renderer": "svg", "actions": False})
